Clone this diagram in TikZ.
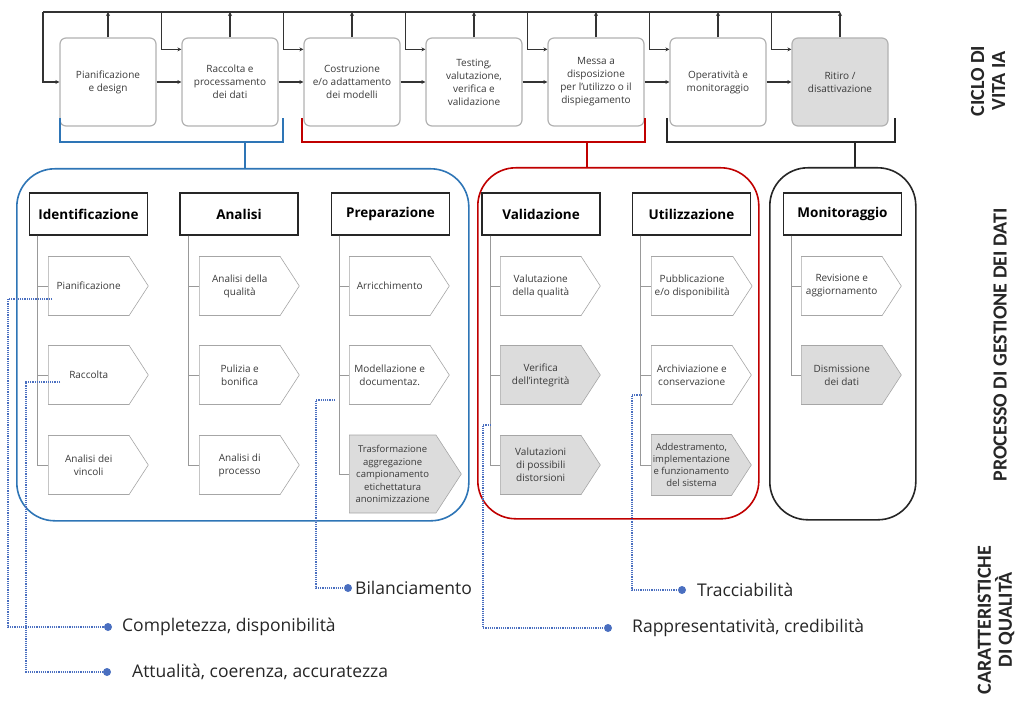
\documentclass[tikz,border=0pt]{standalone}
\usepackage{fontspec}
\setmainfont{Open Sans}
\newfontfamily\sidefont{Carlito}
\usetikzlibrary{shapes.symbols,arrows.meta,positioning}

\definecolor{groupblue}{HTML}{2E75B6}
\definecolor{groupred}{HTML}{C00000}
\definecolor{qualblue}{HTML}{4A6FC0}
\definecolor{stepgray}{HTML}{DCDCDC}
\definecolor{txtgray}{HTML}{3A3A3A}

\tikzset{
  lifebox/.style={draw=black!30, line width=1.2pt, rounded corners=6pt, fill=white,
    minimum width=96pt, minimum height=88pt, align=center,
    font=\fontsize{10}{13}\selectfont, text=txtgray},
  lifeline/.style={draw=black!80, line width=1.1pt},
  lifearrow/.style={lifeline, -{Stealth[length=4pt,width=4pt]}},
  phasebox/.style={draw=black!85, line width=1.4pt, fill=white,
    minimum width=118pt, minimum height=42pt,
    font=\fontsize{13.5}{15}\selectfont\bfseries},
  stepitem/.style={shape=signal, signal to=east, signal pointer angle=114,
    draw=black!35, line width=0.6pt, fill=white, anchor=west,
    minimum width=100pt, minimum height=59pt, align=center,
    font=\fontsize{10}{13}\selectfont, text=txtgray},
  greyitem/.style={stepitem, fill=stepgray},
  spine/.style={draw=black!40, line width=0.7pt},
  group/.style={line width=1.6pt, rounded corners=38pt, anchor=north west},
  bracket/.style={line width=1.8pt},
  qline/.style={draw=qualblue, line width=1.2pt, densely dotted},
  qdot/.style={circle, fill=qualblue, inner sep=0pt, minimum size=8pt},
  qlabel/.style={anchor=west, inner sep=0pt, text=black!85,
    font=\fontsize{17.5}{20}\selectfont},
  sidelabel/.style={rotate=90, align=center, text=black!85,
    font=\sidefont\fontsize{20}{21}\selectfont\bfseries}
}

\begin{document}
\begin{tikzpicture}[x=1pt, y=-1pt]
\useasboundingbox (0,0) rectangle (1023,703);

% groups of the data process
\node[group, draw=groupblue, minimum width=452pt, minimum height=352pt] (gblue) at (16,168) {};
\node[group, draw=groupred, minimum width=281pt, minimum height=351pt] (gred) at (477,167) {};
\node[group, draw=black!85, minimum width=146pt, minimum height=352pt] (gblack) at (769,167) {};

% AI life cycle
\node[lifebox] (t1) at (108,82) {Pianificazione\\e design};
\node[lifebox] (t2) at (230,82) {Raccolta e\\processamento\\dei dati};
\node[lifebox] (t3) at (352,82) {Costruzione\\e/o adattamento\\dei modelli};
\node[lifebox] (t4) at (474,82) {Testing,\\valutazione,\\verifica e\\validazione};
\node[lifebox] (t5) at (596,82) {Messa a\\disposizione\\per l'utilizzo o il\\dispiegamento};
\node[lifebox] (t6) at (718,82) {Operatività e\\monitoraggio};
\node[lifebox, fill=stepgray] (t7) at (840,82) {Ritiro /\\disattivazione};

\coordinate (busL) at (43,12);
\draw[lifeline] (busL) -- (busL -| t7.north);
\draw[lifearrow] (busL) |- (t1.west);
\foreach \i in {1,...,7}
  \draw[lifearrow] (t\i.north) -- (t\i.north |- busL);
\foreach \i/\j in {1/2,2/3,3/4,4/5,5/6,6/7} {
  \draw[lifearrow] (t\i.east) -- (t\j.west);
  \draw[lifearrow] ([xshift=-20pt]t\j.north west |- busL) |- ([yshift=-12pt]t\j.north west);
}

% brackets
\draw[bracket, groupblue] (60,118) |- (283,142) -- (283,118);
\draw[bracket, groupred] (302,118) |- (645,142) -- (645,118);
\draw[bracket, black!85] (667,118) |- (895,142) -- (895,118);
\coordinate (bblue) at (245,142);
\coordinate (bred) at (587,142);
\coordinate (bblack) at (855,142);
\draw[bracket, groupblue] (bblue) -- (bblue |- gblue.north);
\draw[bracket, groupred] (bred) -- (bred |- gred.north);
\draw[bracket, black!85] (bblack) -- (bblack |- gblack.north);

% phases
\foreach \n/\x/\t in {1/88.5/Identificazione, 2/239/Analisi, 3/390.5/Preparazione,
                      4/541/Validazione, 5/691.5/Utilizzazione, 6/842.5/Monitoraggio}
  \node[phasebox] (h\n) at (\x,214) {\t};

% steps
\node[stepitem] (i11) at (48,286) {Pianificazione};
\node[stepitem] (i12) at (48,375) {Raccolta};
\node[stepitem] (i13) at (48,465) {Analisi dei\\vincoli};
\node[stepitem] (i21) at (199,286) {Analisi della\\qualità};
\node[stepitem] (i22) at (199,375) {Pulizia e\\bonifica};
\node[stepitem] (i23) at (199,465) {Analisi di\\processo};
\node[stepitem] (i31) at (349,286) {Arricchimento};
\node[stepitem] (i32) at (349,375) {Modellazione e\\documentaz.};
\node[greyitem, minimum width=112pt, minimum height=78pt,
      font=\fontsize{9.5}{12.5}\selectfont] (i33) at (349,474)
      {Trasformazione\\aggregazione\\campionamento\\etichettatura\\anonimizzazione};
\node[stepitem] (i41) at (500,286) {Valutazione\\della qualità};
\node[greyitem] (i42) at (500,375) {Verifica\\dell'integrità};
\node[greyitem] (i43) at (500,465) {Valutazioni\\di possibili\\distorsioni};
\node[stepitem] (i51) at (651,286) {Pubblicazione\\e/o disponibilità};
\node[stepitem] (i52) at (651,375) {Archiviazione e\\conservazione};
\node[greyitem, minimum height=61pt, inner xsep=1pt,
      font=\fontsize{9.5}{12}\selectfont] (i53) at (651,465)
      {Addestramento,\\implementazione\\e funzionamento\\del sistema};
\node[stepitem] (i61) at (801,286) {Revisione e\\aggiornamento};
\node[greyitem] (i62) at (801,375) {Dismissione\\dei dati};

\foreach \c/\k in {1/1,1/2,1/3,2/1,2/2,2/3,3/1,3/2,3/3,4/1,4/2,4/3,5/1,5/2,5/3,6/1,6/2}
  \draw[spine] ([xshift=9pt]h\c.south west) |- (i\c\k.west);

% quality characteristics
\coordinate (s1) at (52,299);
\coordinate (s2) at (60,382);
\coordinate (s3) at (335,400);
\coordinate (s4) at (491,425);
\coordinate (s5) at (642,395);
\node[qdot] (d1) at (108,627) {};
\node[qdot] (d2) at (107,672) {};
\node[qdot] (d3) at (348,588) {};
\node[qdot] (d4) at (608,628) {};
\node[qdot] (d5) at (682,590) {};
\node[qlabel] (q1) at (122,627) {Completezza, disponibilità};
\node[qlabel] (q2) at (132,672) {Attualità, coerenza, accuratezza};
\node[qlabel] (q3) at (355,588) {Bilanciamento};
\node[qlabel] (q4) at (632,628) {Rappresentatività, credibilità};
\node[qlabel] (q5) at (697,590) {Tracciabilità};
\draw[qline] (s1) -- ++(-44,0) |- (d1);
\draw[qline] (s2) -- ++(-34,0) |- (d2);
\draw[qline] (s3) -- ++(-19,0) |- (d3);
\draw[qline] (s4) -- ++(-8,0) |- (d4);
\draw[qline] (s5) -- ++(-10,0) |- (d5);

% side labels
\node[sidelabel] (lcycle) at (988,81) {CICLO DI\\VITA IA};
\node[sidelabel] (lprocess) at (1000,345) {PROCESSO DI GESTIONE DEI DATI};
\node[sidelabel] (lquality) at (996,620) {CARATTERISTICHE\\DI QUALITÀ};
\end{tikzpicture}
\end{document}
